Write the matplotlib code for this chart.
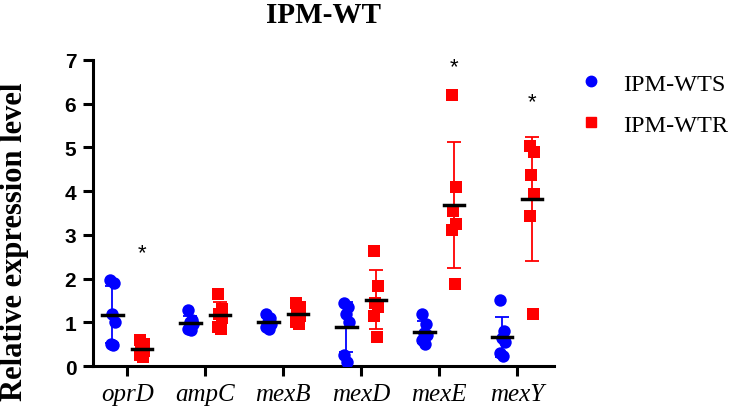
import numpy as np
import matplotlib
matplotlib.use("Agg")
import matplotlib.pyplot as plt
from matplotlib.lines import Line2D

genes = ["oprD", "ampC", "mexB", "mexD", "mexE", "mexY"]

# IPM-WTS (blue circles)
wts = [
    [1.97, 1.90, 1.20, 1.00, 0.50, 0.48],
    [1.27, 1.05, 1.00, 0.95, 0.85, 0.82],
    [1.20, 1.10, 1.00, 0.95, 0.90, 0.85],
    [1.45, 1.35, 1.20, 1.00, 0.25, 0.10],
    [1.18, 0.95, 0.75, 0.70, 0.60, 0.50],
    [1.50, 0.80, 0.65, 0.55, 0.30, 0.22],
]
# IPM-WTR (red squares)
wtr = [
    [0.60, 0.50, 0.45, 0.35, 0.25, 0.20],
    [1.65, 1.30, 1.20, 1.10, 0.90, 0.85],
    [1.45, 1.35, 1.25, 1.15, 1.00, 0.95],
    [2.64, 1.84, 1.45, 1.35, 1.15, 0.66],
    [6.20, 4.10, 3.55, 3.25, 3.10, 1.87],
    [5.04, 4.89, 4.37, 3.94, 3.43, 1.19],
]
star_genes = ["oprD", "mexE", "mexY"]
star_y = [2.6, 6.85, 6.05]

blue = "#0000ff"
red = "#ff0000"
serif = ["Liberation Serif", "DejaVu Serif"]
sans = ["Liberation Sans", "DejaVu Sans"]

fig = plt.figure(figsize=(7.35, 4.14), dpi=100)
ax = fig.add_axes([0.1265, 0.1135, 0.627, 0.7395])

x = np.arange(len(genes))
off = 0.19
jit = [-0.03, 0.025, -0.01, 0.03, -0.025, 0.01]

for i in range(len(genes)):
    for vals, sign, col, mk in [(wts[i], -1, blue, "o"), (wtr[i], 1, red, "s")]:
        v = np.array(vals)
        xc = x[i] + sign * off
        m = v.mean()
        sd = v.std(ddof=1)
        ax.errorbar(xc, m, yerr=sd, color=col, lw=1.3, capsize=5, capthick=1.3, zorder=2)
        ax.scatter(xc + np.array(jit), v, s=80, marker=mk, color=col, zorder=3, linewidths=0)
        ax.plot([xc - 0.13, xc + 0.13], [m, m], color="black", lw=2.5, zorder=4)

for g, sy in zip(star_genes, star_y):
    ax.text(genes.index(g) + off, sy, "*", ha="center", va="center", fontsize=16, family=sans)

ax.set_xlim(-0.44, 5.47)
ax.set_ylim(0, 7)
ax.set_xticks(x)
ax.set_xticklabels(genes, fontsize=18, family=serif, style="italic")
ax.set_yticks(range(8))
ax.set_yticklabels([str(t) for t in range(8)], fontsize=15, family=sans, fontweight="bold")
for s in ["top", "right"]:
    ax.spines[s].set_visible(False)
for s in ["left", "bottom"]:
    ax.spines[s].set_linewidth(2.2)
ax.tick_params(width=2.2, length=7.5, direction="out")
ax.tick_params(axis="y", pad=4.5)
ax.tick_params(axis="x", pad=5)
ax.set_ylabel("Relative expression level", fontsize=22, family=serif, fontweight="bold")
ax.yaxis.set_label_coords(-0.138, 0.41)
ax.set_title("IPM-WT", fontsize=21, family=serif, fontweight="bold", pad=27)

handles = [
    Line2D([], [], marker="o", color=blue, lw=0, markersize=7.5),
    Line2D([], [], marker="s", color=red, lw=0, markersize=7.5),
]
leg = fig.legend(handles, ["IPM-WTS", "IPM-WTR"], loc="upper left", bbox_to_anchor=(0.788, 0.822),
                 frameon=False, prop={"family": serif, "size": 17.5}, labelspacing=0.78,
                 handlelength=1.0, handletextpad=0.81, borderpad=0, borderaxespad=0)

fig.savefig("out.png", dpi=100)
